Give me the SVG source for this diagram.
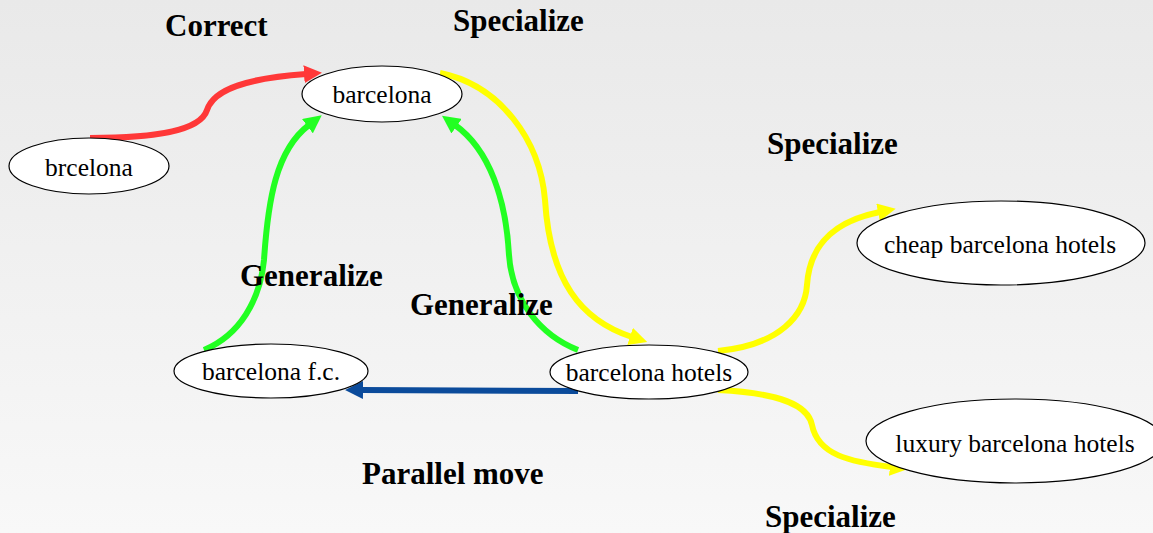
<svg xmlns="http://www.w3.org/2000/svg" width="1153" height="533" viewBox="0 0 1153 533">
<defs>
<linearGradient id="bg" x1="0" y1="0" x2="0" y2="1">
<stop offset="0" stop-color="#e9e9e9"/>
<stop offset="1" stop-color="#f8f8f8"/>
</linearGradient>
<marker id="aR" markerUnits="userSpaceOnUse" viewBox="0 0 18 18" markerWidth="18" markerHeight="18" refX="2" refY="9" orient="auto"><path d="M0,0 L18,9 L0,18 z" fill="#ff3838"/></marker>
<marker id="aG" markerUnits="userSpaceOnUse" viewBox="0 0 18 18" markerWidth="18" markerHeight="18" refX="2" refY="9" orient="auto"><path d="M0,0 L18,9 L0,18 z" fill="#22ff22"/></marker>
<marker id="aY" markerUnits="userSpaceOnUse" viewBox="0 0 18 18" markerWidth="18" markerHeight="18" refX="2" refY="9" orient="auto"><path d="M0,0 L18,9 L0,18 z" fill="#ffff00"/></marker>
<marker id="aB" markerUnits="userSpaceOnUse" viewBox="0 0 18 18" markerWidth="18" markerHeight="18" refX="2" refY="9" orient="auto"><path d="M0,0 L18,9 L0,18 z" fill="#0b4b9b"/></marker>
</defs>
<style>
.node ellipse{fill:#ffffff;stroke:#000000;stroke-width:1.2}
.node text{font-family:"Liberation Serif","Times New Roman",serif;font-size:25.5px;fill:#000;text-anchor:middle}
.lbl{font-family:"Liberation Serif","Times New Roman",serif;font-size:31px;font-weight:bold;fill:#000}
.e{fill:none;stroke-width:6}
</style>
<rect x="0" y="0" width="1153" height="533" fill="url(#bg)"/>
<g id="connectors">
<path class="e" d="M90,138 C150,138 200,132 207,110 C214,88 250,78 306,74" stroke="#ff3838" marker-end="url(#aR)"/>
<path class="e" d="M204,350 C240,335 260,300 264,260 C268,200 276,150 309,125" stroke="#22ff22" marker-end="url(#aG)"/>
<path class="e" d="M578,350 C540,335 512,300 509,255 C506,200 490,150 455,125" stroke="#22ff22" marker-end="url(#aG)"/>
<path class="e" d="M440,73 C500,85 540,140 545,200 C550,280 580,320 632,337" stroke="#ffff00" marker-end="url(#aY)"/>
<path class="e" d="M718,351 C780,345 805,315 807,285 C810,240 840,220 880,212" stroke="#ffff00" marker-end="url(#aY)"/>
<path class="e" d="M718,390 C780,393 808,405 812,425 C818,455 850,462 892,467" stroke="#ffff00" marker-end="url(#aY)"/>
<path class="e" d="M578,391 L361,390" stroke="#0b4b9b" marker-end="url(#aB)"/>
</g>
<g id="n_barcelona" class="node"><ellipse cx="382" cy="94" rx="80" ry="28"/><text x="382" y="103">barcelona</text></g>
<g id="n_brcelona" class="node"><ellipse cx="89" cy="166" rx="80" ry="28"/><text x="89" y="176">brcelona</text></g>
<g id="n_fc" class="node"><ellipse cx="271" cy="371" rx="97" ry="27"/><text x="271" y="380">barcelona f.c.</text></g>
<g id="n_hotels" class="node"><ellipse cx="649" cy="372" rx="99" ry="27"/><text x="649" y="381">barcelona hotels</text></g>
<g id="n_cheap" class="node"><ellipse cx="1001" cy="243" rx="144" ry="42"/><text x="1000" y="253">cheap barcelona hotels</text></g>
<g id="n_luxury" class="node"><ellipse cx="1015" cy="441" rx="149" ry="42"/><text x="1015" y="452">luxury barcelona hotels</text></g>
<g id="labels">
<text class="lbl" x="165" y="36">Correct</text>
<text class="lbl" x="453" y="31">Specialize</text>
<text class="lbl" x="767" y="154">Specialize</text>
<text class="lbl" x="240" y="286">Generalize</text>
<text class="lbl" x="410" y="315">Generalize</text>
<text class="lbl" x="362" y="484">Parallel move</text>
<text class="lbl" x="765" y="527">Specialize</text>
</g>
</svg>
